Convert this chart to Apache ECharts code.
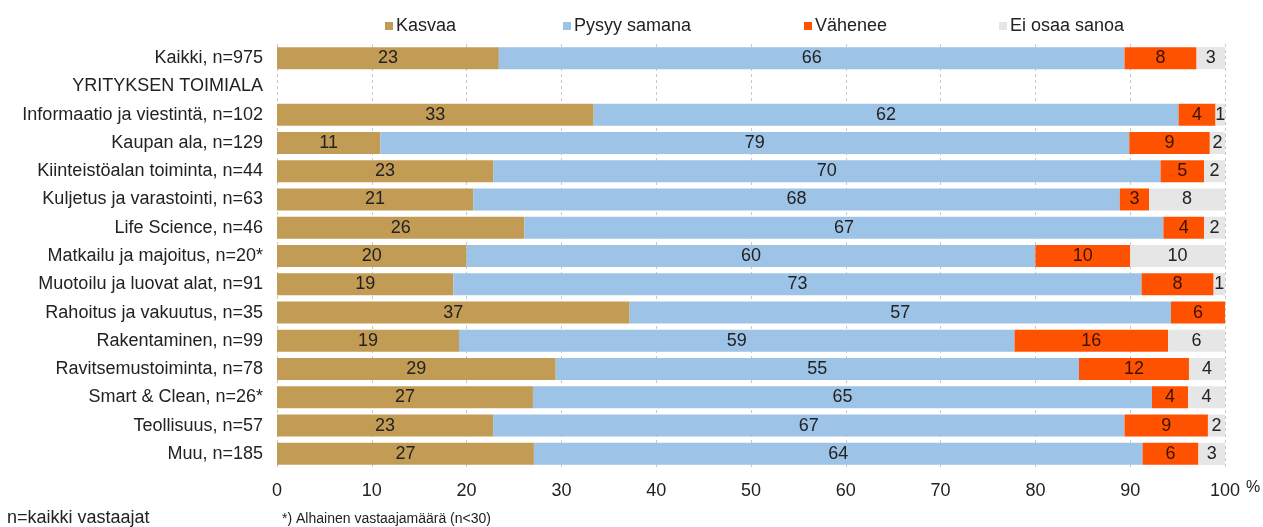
<!DOCTYPE html>
<html>
<head>
<meta charset="utf-8">
<script src="https://cdn.jsdelivr.net/npm/echarts@6/dist/echarts.min.js"></script>
<style>
html,body{margin:0;padding:0;background:#fff;}
#chart{width:1263px;height:527px;}
</style>
</head>
<body>
<div id="chart"></div>
<script>
const categories = [
  'Kaikki, n=975',
  'YRITYKSEN TOIMIALA',
  'Informaatio ja viestintä, n=102',
  'Kaupan ala, n=129',
  'Kiinteistöalan toiminta, n=44',
  'Kuljetus ja varastointi, n=63',
  'Life Science, n=46',
  'Matkailu ja majoitus, n=20*',
  'Muotoilu ja luovat alat, n=91',
  'Rahoitus ja vakuutus, n=35',
  'Rakentaminen, n=99',
  'Ravitsemustoiminta, n=78',
  'Smart & Clean, n=26*',
  'Teollisuus, n=57',
  'Muu, n=185'
];
const kasvaa  = [23.4, null, 33.4, 10.9, 22.8, 20.7, 26.1, 20.0, 18.6, 37.2, 19.2, 29.4, 27.0, 22.8, 27.1];
const pysyy   = [66.0, null, 61.7, 79.0, 70.4, 68.2, 67.4, 60.0, 72.6, 57.1, 58.6, 55.2, 65.3, 66.6, 64.2];
const vahenee = [7.6,  null, 3.9,  8.5,  4.6,  3.1,  4.3,  10.0, 7.6,  5.7,  16.2, 11.6, 3.8,  8.8,  5.9];
const eiOsaa  = [3.0,  null, 1.0,  1.6,  2.2,  8.0,  2.2,  10.0, 1.2,  0,    6.0,  3.8,  3.9,  1.8,  2.8];
const seriesNames = ['Kasvaa', 'Pysyy samana', 'Vähenee', 'Ei osaa sanoa'];
const colors = ['#C29C55', '#9DC3E6', '#FF5200', '#E7E6E6'];
const xTicks = [0, 10, 20, 30, 40, 50, 60, 70, 80, 90, 100];

const FONT = '"Liberation Sans", Arial, sans-serif';
const chart = echarts.init(document.getElementById('chart'), null, {renderer: 'canvas'});

const dataSets = [kasvaa, pysyy, vahenee, eiOsaa];
const series = dataSets.map((d, i) => ({
  name: seriesNames[i],
  type: 'bar',
  stack: 'total',
  barWidth: 22,
  data: d,
  itemStyle: {color: colors[i]},
  label: {
    show: true,
    position: 'inside',
    color: i === 2 ? '#3a1200' : '#222',
    fontFamily: FONT,
    fontSize: 18,
    formatter: p => (p.value === null || p.value === 0 || p.value === undefined) ? '' : String(Math.round(p.value))
  },
  emphasis: {disabled: true}
}));

const legendLefts = [380, 558, 799, 994];
const legends = seriesNames.map((n, i) => ({
  data: [n],
  left: legendLefts[i],
  top: 12,
  itemWidth: 8,
  itemHeight: 8,
  icon: 'rect',
  itemGap: 0,
  textStyle: {fontFamily: FONT, fontSize: 18, color: '#222', padding: [0, 0, 0, -2]},
  selectedMode: false
}));

chart.setOption({
  animation: false,
  backgroundColor: '#fff',
  legend: legends,
  grid: {left: 277, right: 38, top: 44, height: 424, containLabel: false},
  xAxis: {
    type: 'value',
    min: 0, max: 100, interval: 10,
    axisLine: {show: false},
    axisTick: {show: false},
    axisLabel: {fontFamily: FONT, fontSize: 18, color: '#222', margin: 14,
      formatter: v => xTicks.includes(v) ? String(v) : ''},
    splitLine: {show: true, lineStyle: {color: '#c8c8c8', type: [3, 3], width: 1}}
  },
  yAxis: {
    type: 'category',
    data: categories,
    inverse: true,
    axisLine: {show: false},
    axisTick: {show: false},
    axisLabel: {fontFamily: FONT, fontSize: 18, color: '#222', margin: 14}
  },
  series: series,
  graphic: [
    {type: 'text', left: 1246, top: 480, style: {text: '%', font: '16px ' + FONT, fill: '#222'}},
    {type: 'text', left: 7, top: 509, style: {text: 'n=kaikki vastaajat', font: '18px ' + FONT, fill: '#222'}},
    {type: 'text', left: 282, top: 512, style: {text: '*) Alhainen vastaajamäärä (n<30)', font: '14px ' + FONT, fill: '#222'}}
  ]
});
</script>
</body>
</html>
